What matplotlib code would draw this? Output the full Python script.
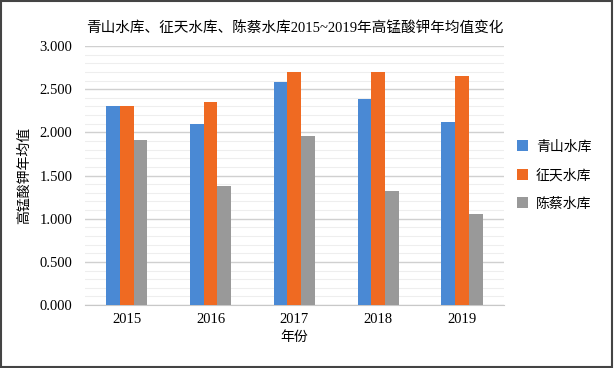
import matplotlib
matplotlib.use('Agg')
import matplotlib.pyplot as plt
import numpy as np
from matplotlib.patches import Rectangle
from matplotlib.ticker import MultipleLocator

years = ['2015', '2016', '2017', '2018', '2019']
names = ['青山水库', '征天水库', '陈蔡水库']
qingshan = [2.30, 2.10, 2.58, 2.39, 2.12]
zhengtian = [2.30, 2.35, 2.70, 2.70, 2.65]
chencai = [1.91, 1.375, 1.96, 1.325, 1.055]
colors = ['#4a89d4', '#ef6a22', '#999999']

plt.rcParams['font.family'] = ['Liberation Serif', 'Noto Sans CJK SC']

fig = plt.figure(figsize=(6.14, 3.68), dpi=100)
ax = fig.add_axes([0.138, 0.171, 0.683, 0.704])

x = np.arange(len(years))
w = 0.165
for i, vals in enumerate([qingshan, zhengtian, chencai]):
    ax.bar(x + (i - 1) * w, vals, width=w, color=colors[i], label=names[i], zorder=3)

ax.set_xlim(-0.5, len(years) - 0.5)
ax.set_ylim(0, 3.0)
ax.yaxis.set_minor_locator(MultipleLocator(0.1))
ax.set_yticks(np.arange(0, 3.01, 0.5))
ax.set_yticklabels(['%.3f' % v for v in np.arange(0, 3.01, 0.5)], fontsize=10.5)
ax.set_xticks(x)
ax.set_xticklabels(years, fontsize=10.5)
ax.grid(axis='y', which='major', color='#d0d0d0', linewidth=1, zorder=0)
ax.grid(axis='y', which='minor', color='#eeeeee', linewidth=0.8, zorder=0)
ax.tick_params(axis='both', which='both', length=0)
ax.tick_params(axis='y', pad=9)
ax.tick_params(axis='x', pad=6)
for s in ['top', 'right', 'left']:
    ax.spines[s].set_visible(False)
ax.spines['bottom'].set_color('#c8c8c8')

ax.set_xlabel('年份', fontsize=10, labelpad=3)
ax.set_ylabel('高锰酸钾年均值', fontsize=10, labelpad=6)
ax.set_title('青山水库、征天水库、陈蔡水库2015~2019年高锰酸钾年均值变化', fontsize=10.5, pad=10)

ax.legend(loc='center left', bbox_to_anchor=(1.0, 0.5), frameon=False, fontsize=10,
          handlelength=0.8, handleheight=0.8, labelspacing=1.1, handletextpad=0.6)

fig.patches.append(Rectangle((0.002, 0.003), 0.995, 0.993, transform=fig.transFigure,
                             fill=False, edgecolor='#444444', linewidth=1.5))

fig.savefig('out.png', dpi=100)
